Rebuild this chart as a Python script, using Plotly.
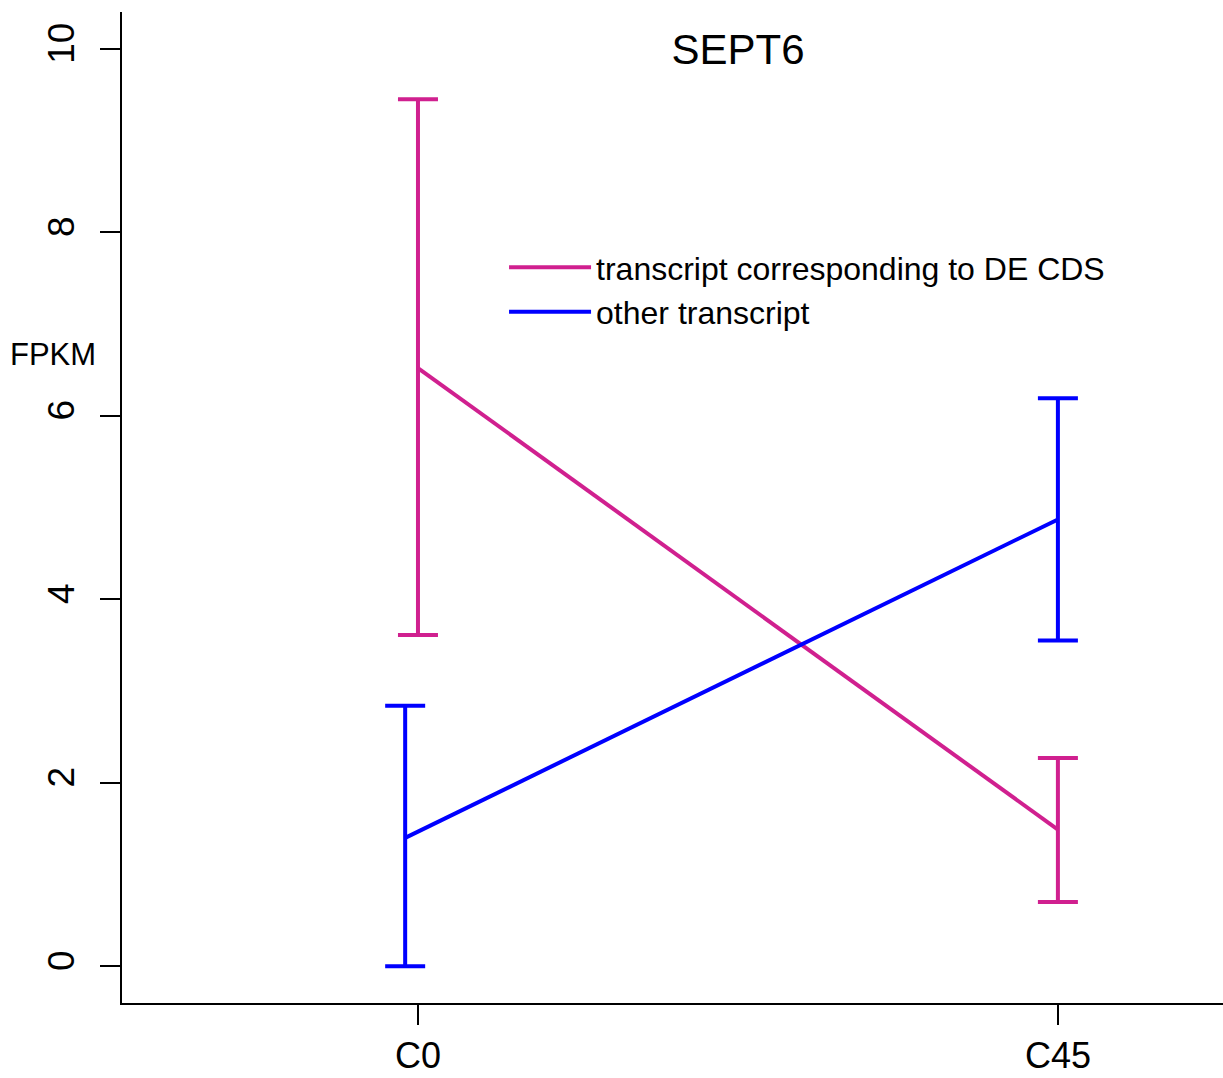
import plotly.graph_objects as go

# ---- data ----
categories = ["C0", "C45"]
de_mean = [6.52, 1.49]
de_upper = [9.45, 2.27]
de_lower = [3.61, 0.70]
other_mean = [1.40, 4.87]
other_upper = [2.84, 6.19]
other_lower = [0.00, 3.55]
series_names = ["transcript corresponding to DE CDS", "other transcript"]
y_ticks = [0, 2, 4, 6, 8, 10]

# ---- style ----
PINK = "#D0208F"
BLUE = "#0000FF"
FONT = "Liberation Sans, Arial, Helvetica, sans-serif"
other_shift = [-0.02, 0.0]  # small horizontal dodge used in the original

x_pos = [i + 1 for i in range(len(categories))]
x_other = [x + s for x, s in zip(x_pos, other_shift)]

def err(mean, upper, lower):
    plus = [u - m for m, u in zip(mean, upper)]
    minus = [m - l for m, l in zip(mean, lower)]
    return plus, minus

de_plus, de_minus = err(de_mean, de_upper, de_lower)
ot_plus, ot_minus = err(other_mean, other_upper, other_lower)

fig = go.Figure()
fig.add_trace(go.Scatter(
    x=x_pos, y=de_mean, mode="lines", name=series_names[0],
    line=dict(color=PINK, width=4),
    error_y=dict(type="data", array=de_plus, arrayminus=de_minus,
                 color=PINK, thickness=4, width=20, symmetric=False),
))
fig.add_trace(go.Scatter(
    x=x_other, y=other_mean, mode="lines", name=series_names[1],
    line=dict(color=BLUE, width=4),
    error_y=dict(type="data", array=ot_plus, arrayminus=ot_minus,
                 color=BLUE, thickness=4, width=20, symmetric=False),
))

fig.update_layout(
    width=1223, height=1078,
    margin=dict(l=122, r=0, t=12, b=75, autoexpand=False),
    paper_bgcolor="white", plot_bgcolor="white",
    font=dict(family=FONT, color="black"),
    showlegend=True,
    legend=dict(x=0.347, y=0.770, xanchor="left", yanchor="top",
                font=dict(size=32, family=FONT), bgcolor="rgba(0,0,0,0)",
                borderwidth=0, tracegroupgap=0, itemwidth=82),
    title=dict(text="SEPT6", x=0.5595, xref="paper", y=1 - 49 / 1078,
               yref="container", xanchor="center", yanchor="middle",
               font=dict(size=42, family=FONT)),
)

fig.update_xaxes(
    range=[0.5375, 2.258], tickmode="array", tickvals=x_pos, ticktext=categories,
    showgrid=False, zeroline=False, showline=True, linecolor="black", linewidth=1.5,
    ticks="outside", ticklen=20, tickwidth=1.5, tickcolor="black",
    tickfont=dict(size=36, family=FONT), ticklabelstandoff=0,
)
fig.update_yaxes(
    range=[-0.40, 10.40], tickmode="array", tickvals=y_ticks,
    ticktext=[str(v) for v in y_ticks],
    showgrid=False, zeroline=False, showline=True, linecolor="black", linewidth=1.5,
    ticks="outside", ticklen=20, tickwidth=1.5, tickcolor="black",
    tickangle=-90, tickfont=dict(size=37, family=FONT), ticklabelstandoff=11,
)

fig.add_annotation(text="FPKM", xref="paper", yref="y", x=-0.0627, y=6.67,
                   showarrow=False, xanchor="center", yanchor="middle",
                   font=dict(size=31, family=FONT, color="black"))

fig.write_html("out.html")
